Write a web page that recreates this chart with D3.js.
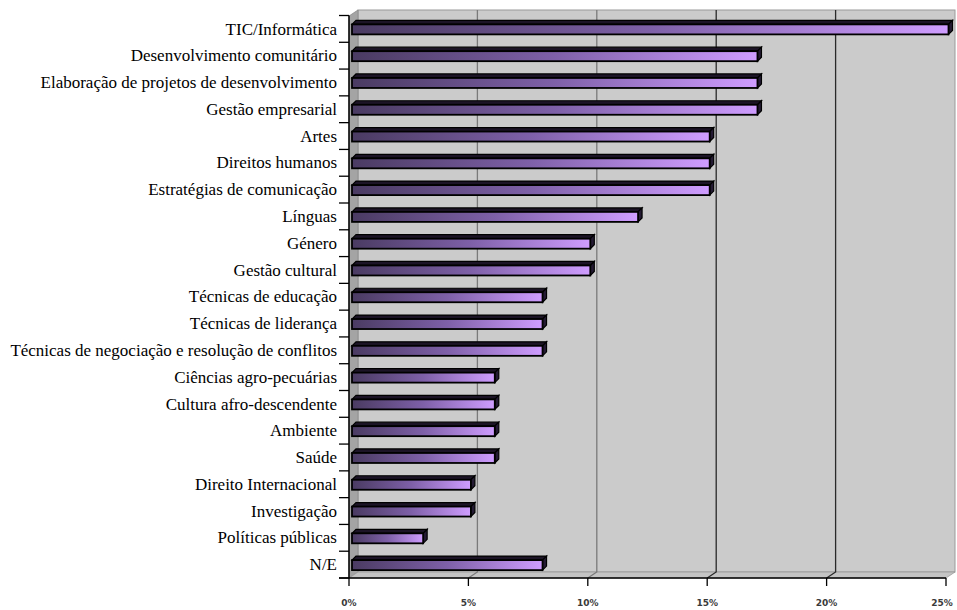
<!DOCTYPE html>
<html>
<head>
<meta charset="utf-8">
<script src="https://cdn.jsdelivr.net/npm/d3@7"></script>
<style>
  html, body { margin: 0; padding: 0; background: #ffffff; }
  svg { display: block; }
  .cat { font-family: "Liberation Serif", "Times New Roman", Times, serif; }
  .tick { font-family: "DejaVu Sans", Verdana, sans-serif; }
</style>
</head>
<body>
<svg id="chart" width="957" height="610"></svg>
<script>
const categories = [
  "TIC/Informática",
  "Desenvolvimento comunitário",
  "Elaboração de projetos de desenvolvimento",
  "Gestão empresarial",
  "Artes",
  "Direitos humanos",
  "Estratégias de comunicação",
  "Línguas",
  "Género",
  "Gestão cultural",
  "Técnicas de educação",
  "Técnicas de liderança",
  "Técnicas de negociação e resolução de conflitos",
  "Ciências agro-pecuárias",
  "Cultura afro-descendente",
  "Ambiente",
  "Saúde",
  "Direito Internacional",
  "Investigação",
  "Políticas públicas",
  "N/E"
];
const values = [25, 17, 17, 17, 15, 15, 15, 12, 10, 10, 8, 8, 8, 6, 6, 6, 6, 5, 5, 3, 8];
const xTicks = [0, 5, 10, 15, 20, 25];
const xTickLabels = ["0%", "5%", "10%", "15%", "20%", "25%"];

const svg = d3.select("#chart");

const x = d3.scaleLinear().domain([0, 25]).range([349, 946]);
const y = d3.scaleBand().domain(categories).range([15.5, 578]).paddingInner(0);

const axisY = 578;
const wallDx = 9, wallDy = -6;
const topY = 10;

const defs = svg.append("defs");
const grad = defs.append("linearGradient").attr("id", "barGrad")
  .attr("x1", "0").attr("y1", "0").attr("x2", "1").attr("y2", "0");
grad.append("stop").attr("offset", "0").attr("stop-color", "#4a3b62");
grad.append("stop").attr("offset", "0.5").attr("stop-color", "#7e60a8");
grad.append("stop").attr("offset", "1").attr("stop-color", "#cf9dff");

const x0 = x(0), xMax = x(25);
svg.append("rect")
  .attr("x", x0 + wallDx).attr("y", topY)
  .attr("width", xMax - x0).attr("height", axisY + wallDy - topY)
  .attr("fill", "#cbcbcb").attr("stroke", "#9a9a9a").attr("stroke-width", 1);

svg.append("polygon")
  .attr("points", [[x0, axisY], [x0, topY - wallDy], [x0 + wallDx, topY], [x0 + wallDx, axisY + wallDy]].map(p => p.join(",")).join(" "))
  .attr("fill", "#a4a4a4").attr("stroke", "#8a8a8a").attr("stroke-width", 0.8);

svg.append("polygon")
  .attr("points", [[x0, axisY], [xMax, axisY], [xMax + wallDx, axisY + wallDy], [x0 + wallDx, axisY + wallDy]].map(p => p.join(",")).join(" "))
  .attr("fill", "#c4c4c4").attr("stroke", "#9a9a9a").attr("stroke-width", 0.8);

const gridTicks = xTicks.filter(t => t > 0 && t < 25);
gridTicks.forEach(t => {
  const gx = x(t);
  const col = t <= 10 ? "#7a7a7a" : "#2a2a2a";
  svg.append("path")
    .attr("d", `M${gx},${axisY}L${gx + wallDx},${axisY + wallDy}L${gx + wallDx},${topY}`)
    .attr("fill", "none").attr("stroke", col).attr("stroke-width", 1.3);
});

const d = 4;
const faceH = 10;
const bars = svg.append("g");
categories.forEach((c, i) => {
  const cy = y(c) + y.bandwidth() / 2 + 0.5;
  const bx0 = x0 + 3;
  const bx1 = x(values[i]) + 2.5;
  const top = cy - faceH / 2, bot = cy + faceH / 2;
  const g = bars.append("g");
  g.append("polygon")
    .attr("points", [[bx0, top], [bx1, top], [bx1 + d, top - d], [bx0 + d, top - d]].map(p => p.join(",")).join(" "))
    .attr("fill", "#1c1426").attr("stroke", "#000").attr("stroke-width", 1.2);
  g.append("polygon")
    .attr("points", [[bx1, top], [bx1 + d, top - d], [bx1 + d, bot - d], [bx1, bot]].map(p => p.join(",")).join(" "))
    .attr("fill", "#241a33").attr("stroke", "#000").attr("stroke-width", 1.2);
  g.append("rect")
    .attr("x", bx0).attr("y", top)
    .attr("width", bx1 - bx0).attr("height", faceH)
    .attr("fill", "url(#barGrad)").attr("stroke", "#000").attr("stroke-width", 1.8);
});

svg.append("line")
  .attr("x1", x0).attr("x2", x0).attr("y1", 15.5).attr("y2", axisY)
  .attr("stroke", "#000").attr("stroke-width", 1.5);
const boundaries = categories.map(c => y(c)).concat([axisY]);
boundaries.forEach(b => {
  svg.append("line")
    .attr("x1", x0 - 10).attr("x2", x0).attr("y1", b).attr("y2", b)
    .attr("stroke", "#000").attr("stroke-width", 1.3);
});

svg.append("g").selectAll("text").data(categories).join("text")
  .attr("class", "cat")
  .attr("x", 337)
  .attr("y", c => y(c) + y.bandwidth() / 2)
  .attr("dy", "0.33em")
  .attr("text-anchor", "end")
  .attr("font-size", 17)
  .attr("fill", "#000")
  .text(c => c);

svg.append("line")
  .attr("x1", x0 - 10).attr("x2", xMax).attr("y1", axisY).attr("y2", axisY)
  .attr("stroke", "#000").attr("stroke-width", 1.5);
xTicks.forEach((t, i) => {
  svg.append("line")
    .attr("x1", x(t)).attr("x2", x(t)).attr("y1", axisY).attr("y2", axisY + 8)
    .attr("stroke", "#000").attr("stroke-width", 1.3);
  svg.append("text")
    .attr("class", "tick")
    .attr("x", t === 25 ? x(t) - 4 : x(t)).attr("y", 606)
    .attr("text-anchor", "middle")
    .attr("font-size", 9)
    .attr("font-weight", "bold")
    .attr("fill", "#3a3a3a")
    .text(xTickLabels[i]);
});
</script>
</body>
</html>
